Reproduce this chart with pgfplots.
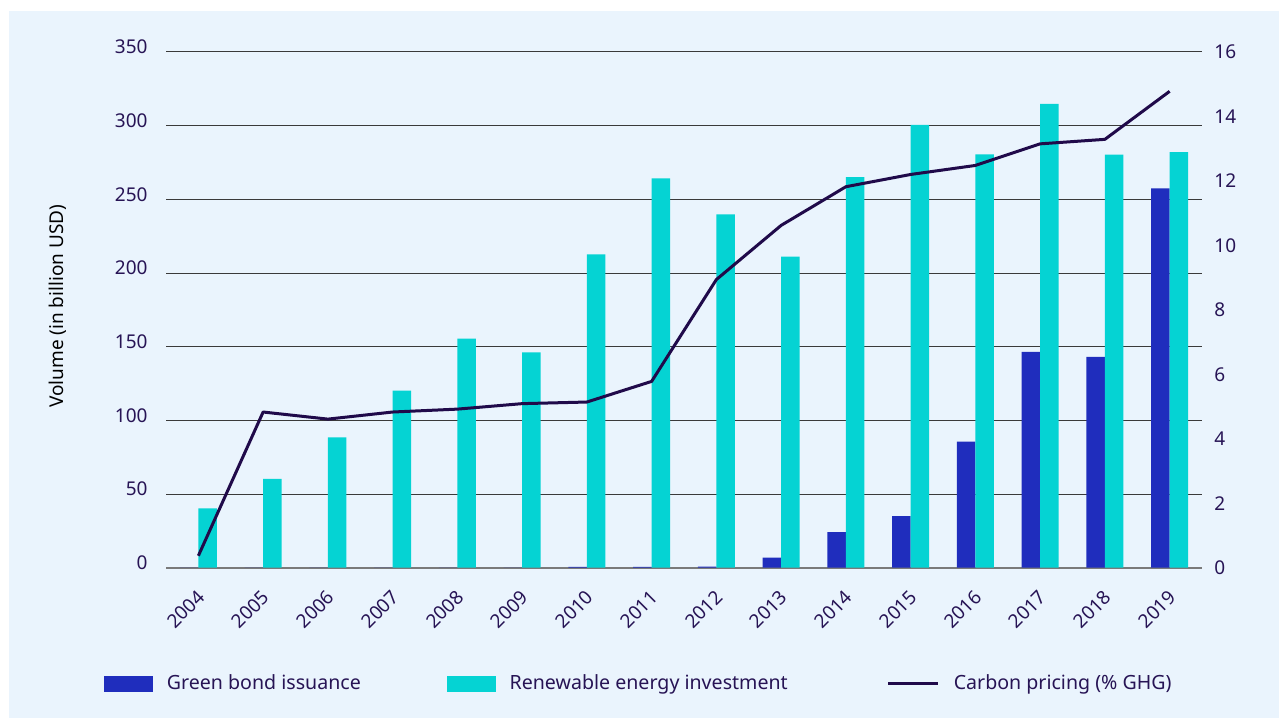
\documentclass[border=0pt]{standalone}
\usepackage{pgfplots}
\pgfplotsset{compat=1.18}
\usepackage{fontspec}
\setmainfont{Noto Sans}
\definecolor{bg}{HTML}{EAF4FD}
\definecolor{gb}{HTML}{1F2DBD}
\definecolor{cy}{HTML}{05D3D3}
\definecolor{lc}{HTML}{200A4A}
\definecolor{tc}{HTML}{271455}
\definecolor{gridc}{HTML}{3A3A3A}
\definecolor{basec}{HTML}{7A7A7A}
\begin{document}
\begin{tikzpicture}[x=1pt,y=1pt]
\fill[white] (0,0) rectangle (639.5,359);
\fill[bg] (4.5,0) rectangle (639.5,353.5);
\begin{axis}[
  at={(83pt,75.15pt)}, anchor=south west, scale only axis,
  width=518pt, height=257.85pt,
  xmin=-0.5, xmax=15.5, ymin=0, ymax=350,
  ybar=0pt, bar width=9.25pt,
  xtick={0,...,15},
  xticklabels={2004,2005,2006,2007,2008,2009,2010,2011,2012,2013,2014,2015,2016,2017,2018,2019},
  ytick={0,50,...,350},
  axis lines*=left,
  x axis line style={draw=basec, line width=1pt, -},
  y axis line style={draw=none},
  major tick length=0pt,
  ymajorgrids, grid style={draw=gridc, line width=0.5pt},
  font=\fontsize{9.5}{11}\selectfont, 
  tick label style={text=tc, font=\fontsize{9.5}{11}\selectfont},
  /pgf/number format/assume math mode=true,
  yticklabel style={anchor=east, inner sep=0pt, xshift=-9pt, yshift=2.5pt},
  xticklabel style={xshift=1.5pt, yshift=-13pt, rotate=45, anchor=east, inner sep=0pt},
  ylabel={Volume (in billion USD)}, ylabel style={text=tc, font=\fontsize{9.5}{11}\selectfont},
  every axis y label/.style={at={(axis description cs:-0.1042,0.507)}, rotate=90, anchor=center},
  clip=false,
]
\addplot[fill=gb, draw=none] coordinates {(0,0) (1,0) (2,0) (3,0) (4,0) (5,0) (6,0.5) (7,0.6) (8,0.7) (9,6.8) (10,24.2) (11,35) (12,85.6) (13,146.5) (14,143) (15,257.4)};
\addplot[fill=cy, draw=none] coordinates {(0,40.3) (1,60.3) (2,88.4) (3,120.2) (4,155.5) (5,146.2) (6,212.6) (7,264.2) (8,239.8) (9,211.2) (10,265) (11,300.5) (12,280.5) (13,314.8) (14,280.3) (15,282)};
\end{axis}
\begin{axis}[
  at={(83pt,75.15pt)}, anchor=south west, scale only axis,
  width=518pt, height=257.85pt,
  xmin=-0.5, xmax=15.5, ymin=0, ymax=16,
  axis x line=none,
  axis y line*=right,
  y axis line style={draw=none},
  ytick={0,2,...,16},
  major tick length=0pt,
  tick label style={text=tc, font=\fontsize{9.5}{11}\selectfont},
  /pgf/number format/assume math mode=true,
  yticklabel style={anchor=west, inner sep=0pt, xshift=6pt},
  clip=false,
  legend columns=3,
  legend style={draw=none, fill=none, inner sep=0pt, outer sep=0pt,
    at={(-0.0598,-0.2245)}, anchor=west,
    font=\fontsize{9.8}{11}\selectfont, text=tc,
    nodes={inner sep=0pt},
    /tikz/every odd column/.append style={column sep=7pt},
    /tikz/every even column/.append style={column sep=43pt}},
]
\addlegendimage{legend image code/.code={\fill[gb] (0pt,-3.75pt) rectangle (24pt,3.75pt);}}
\addlegendentry{Green bond issuance}
\addlegendimage{legend image code/.code={\fill[cy] (0pt,-3.75pt) rectangle (24pt,3.75pt);}}
\addlegendentry{Renewable energy investment}
\addplot[lc, line width=1.5pt, line join=round, mark=none,
  legend image code/.code={\path (0pt,0pt); \draw[lc, line width=1.5pt] (6.5pt,0pt) -- (31.5pt,0pt);}]
  coordinates {(0,0.37) (1,4.83) (2,4.61) (3,4.83) (4,4.92) (5,5.09) (6,5.14) (7,5.78) (8,8.94) (9,10.62) (10,11.82) (11,12.2) (12,12.48) (13,13.15) (14,13.29) (15,14.78)};
\addlegendentry{Carbon pricing (\% GHG)}
\end{axis}
\end{tikzpicture}
\end{document}
